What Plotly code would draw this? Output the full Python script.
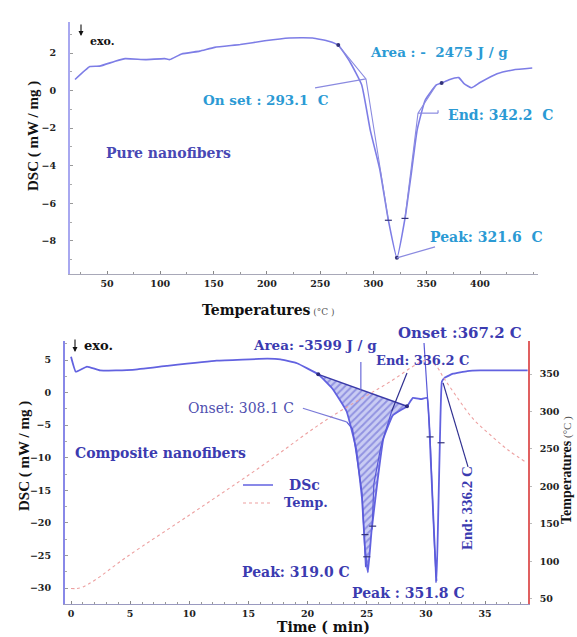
import plotly.graph_objects as go

W, H = 577, 637
SERIF = "DejaVu Serif"          # horizontal texts
SERIF_V = "Liberation Serif"    # rotated titles

# ---- Pure nanofibers: DSC signal against temperature ----
pure_temp = [20, 34, 43, 57, 67, 86, 104, 109, 120, 137, 151, 175, 198, 221, 243,
             258, 267, 278, 289, 297, 306, 314, 322, 329.6, 336, 341, 348.6, 359,
             364, 371, 380, 385, 392, 400, 416, 431, 449]
pure_dsc = [0.59, 1.28, 1.3, 1.55, 1.7, 1.65, 1.7, 1.65, 1.95, 2.1, 2.3, 2.45, 2.65,
            2.8, 2.8, 2.63, 2.42, 1.52, 0.3, -2.1, -4.2, -6.9, -8.9, -6.8, -4.2,
            -2.1, -0.5, 0.3, 0.4, 0.58, 0.69, 0.37, 0.15, 0.43, 0.9, 1.1, 1.2]

# analysis points on the pure curve
pure_dot_temp = [267, 322, 364]
pure_dot_dsc = [2.42, -8.9, 0.4]
pure_tick_temp = [314, 329.6]
pure_tick_dsc = [-6.9, -6.8]
# tangent constructions (onset / end)
pure_onset_temp = [267, 293, 314]
pure_onset_dsc = [2.42, 0.62, -6.9]
pure_end_temp = [359, 341.8, 329.6]
pure_end_dsc = [0.3, -1.2, -6.8]

# ---- Composite nanofibers: DSC signal and programme temperature against time ----
comp_time = [0, 0.4, 1.35, 2.45, 5.2, 8.1, 12.3, 16.6, 17.7, 19.1, 20.9, 22.1, 23.3,
             24.1, 24.6, 24.85, 25.1, 25.4, 25.9, 26.4, 27.2, 28.4, 28.9, 29.6, 30.1,
             30.4, 30.7, 30.9, 31.05, 31.2, 31.35, 31.6, 32.3, 33.5, 34.6, 38.6]
comp_dsc = [5.5, 3.2, 4.0, 3.4, 3.5, 4.1, 4.9, 5.2, 5.1, 4.5, 2.8, 0.6, -2.9,
            -8.6, -16.3, -23.9, -27.6, -21.3, -13.7, -7.1, -3.5, -2.1, -0.8, -1.0, -0.8,
            -10.0, -22.0, -29.0, -18.0, -6.0, 1.7, 2.3, 2.9, 3.3, 3.4, 3.4]

prog_time = [0, 0.5, 1, 2, 4.7, 10.3, 16, 21.6, 27.2, 29, 30, 30.8, 31.5, 32.5,
             34, 35.5, 37, 38.5]
prog_temp = [64, 64, 66, 75, 106, 165, 226, 289, 342, 361, 368, 362, 345, 322,
             290, 268, 248, 232]

# integration baseline of the first endotherm
base_time = [20.9, 28.4]
base_dsc = [2.8, -2.1]

comp_tick_time = [24.85, 25.0, 25.5, 30.35, 31.28]
comp_tick_dsc = [-21.8, -25.2, -20.5, -6.8, -7.7]
comp_onset_time = [23.3, 23.8, 24.6, 24.9]
comp_onset_dsc = [-4.5, -5.6, -15.4, -26.8]
comp_end_time = [27.1, 26.2, 25.6, 25.45]
comp_end_dsc = [-2.9, -8.2, -14.0, -21.0]
comp_onset2_time = [29.84, 30.35, 30.85]
comp_onset2_dsc = [7.6, -6.8, -29.2]

# tick values
pure_xticks = [50, 100, 150, 200, 250, 300, 350, 400]
pure_yticks = [-8, -6, -4, -2, 0, 2]
comp_xticks = [0, 5, 10, 15, 20, 25, 30, 35]
comp_yticks = [-30, -25, -20, -15, -10, -5, 0, 5]
temp_ticks = [50, 100, 150, 200, 250, 300, 350]


def px(x):
    return x / W


def py(y):
    return 1 - y / H


BLUE_TOP = "#7d7de6"
BLUE_BOT = "#6262e0"
DARK = "#3b3bb0"
CYAN = "#2b9ad4"
TEMP_RED = "#eda0a0"

fig = go.Figure()

# --- top panel ---
fig.add_trace(go.Scatter(x=pure_temp, y=pure_dsc, mode="lines",
                         line=dict(color=BLUE_TOP, width=1.6, shape="spline", smoothing=0.4),
                         xaxis="x", yaxis="y", showlegend=False))
for tx, ty in [(pure_onset_temp, pure_onset_dsc), (pure_end_temp, pure_end_dsc)]:
    fig.add_trace(go.Scatter(x=tx, y=ty, mode="lines",
                             line=dict(color="#8a8ae0", width=1.1),
                             xaxis="x", yaxis="y", showlegend=False))
fig.add_trace(go.Scatter(x=pure_dot_temp, y=pure_dot_dsc, mode="markers",
                         marker=dict(color="#33337a", size=4),
                         xaxis="x", yaxis="y", showlegend=False))
fig.add_trace(go.Scatter(x=pure_tick_temp, y=pure_tick_dsc, mode="markers",
                         marker=dict(symbol="line-ew", size=5,
                                     line=dict(color="#33337a", width=1.2)),
                         xaxis="x", yaxis="y", showlegend=False))

# --- bottom panel ---
area_t = [t for t in comp_time if base_time[0] <= t <= base_time[1]]
area_d = [d for t, d in zip(comp_time, comp_dsc) if base_time[0] <= t <= base_time[1]]
fig.add_trace(go.Scatter(x=area_t + base_time[::-1], y=area_d + base_dsc[::-1],
                         mode="lines", fill="toself", line=dict(width=0),
                         fillcolor="rgba(0,0,0,0)",
                         fillpattern=dict(shape="/", fgcolor="#5a5ad0", bgcolor="#c9ccf3",
                                          size=5, solidity=0.4),
                         xaxis="x2", yaxis="y2", showlegend=False, hoverinfo="skip"))
fig.add_trace(go.Scatter(x=prog_time, y=prog_temp, mode="lines",
                         line=dict(color=TEMP_RED, width=1.1, dash="dot", shape="spline"),
                         xaxis="x2", yaxis="y3", showlegend=False))
fig.add_trace(go.Scatter(x=comp_time, y=comp_dsc, mode="lines",
                         line=dict(color=BLUE_BOT, width=1.8, shape="spline", smoothing=0.3),
                         xaxis="x2", yaxis="y2", showlegend=False))
fig.add_trace(go.Scatter(x=base_time, y=base_dsc, mode="lines+markers",
                         line=dict(color="#3a3aa8", width=1.5),
                         marker=dict(color="#2a2a80", size=4),
                         xaxis="x2", yaxis="y2", showlegend=False))
for tx, ty in [(comp_onset_time, comp_onset_dsc), (comp_end_time, comp_end_dsc),
               (comp_onset2_time, comp_onset2_dsc)]:
    fig.add_trace(go.Scatter(x=tx, y=ty, mode="lines",
                             line=dict(color="#5a5ad8", width=1.2),
                             xaxis="x2", yaxis="y2", showlegend=False))
fig.add_trace(go.Scatter(x=comp_tick_time, y=comp_tick_dsc, mode="markers",
                         marker=dict(symbol="line-ew", size=5,
                                     line=dict(color="#33337a", width=1.2)),
                         xaxis="x2", yaxis="y2", showlegend=False))

# leader lines
leaders = [
    ("x", "y", [(245.2, 0.14), (293, 0.62)], "#8a8ae0"),
    ("x", "y", [(341.8, -1.2), (360.6, -1.2), (360.6, -1.05)], "#8a8ae0"),
    ("x", "y", [(322, -8.9), (357.8, -8.32)], "#8a8ae0"),
    ("x2", "y2", [(24.5, 4.7), (24.5, 0.45)], "#6a6ad8"),
    ("x2", "y2", [(19.6, -2.4), (23.3, -4.5)], "#7a7ad8"),
    ("x2", "y2", [(28.4, 3.0), (27.1, -2.9)], "#303090"),
    ("x2", "y2", [(31.45, 1.5), (33.56, -11.4)], "#303090"),
]
for xr, yr, pts, col in leaders:
    for (x0, y0), (x1, y1) in zip(pts[:-1], pts[1:]):
        fig.add_shape(type="line", xref=xr, yref=yr, x0=x0, y0=y0, x1=x1, y1=y1,
                      line=dict(color=col, width=1.2))

# legend
fig.add_shape(type="line", xref="paper", yref="paper", x0=px(243), x1=px(273),
              y0=py(485), y1=py(485), line=dict(color=BLUE_BOT, width=1.5))
fig.add_shape(type="line", xref="paper", yref="paper", x0=px(243), x1=px(273),
              y0=py(503), y1=py(503), line=dict(color=TEMP_RED, width=1.2, dash="dot"))


def label(text, x, y, size=14, color=DARK, weight="bold", anchor="center", angle=0,
          family=SERIF):
    fig.add_annotation(text=text, xref="paper", yref="paper", x=px(x), y=py(y),
                       xanchor=anchor, yanchor="middle", showarrow=False, textangle=angle,
                       font=dict(family=family, size=size, color=color, weight=weight))


# top panel texts
label("exo.", 88, 42, size=11, color="#111", anchor="left")
label("Area : -\u00a0\u00a02475 J / g", 439, 52, size=13.5, color=CYAN)
label("On set : 293.1\u00a0\u00a0C", 266, 100, size=13.5, color=CYAN)
label("End: 342.2\u00a0\u00a0C", 500, 115, size=14, color=CYAN)
label("Peak: 321.6\u00a0\u00a0C", 486, 237, size=14, color=CYAN)
label("Pure nanofibers", 168, 153, size=14, color="#4848b4")
label("DSC ( mW / mg )", 33, 136, size=15, color="#111", angle=-90, family=SERIF_V)
label("Temperatures<span style='font-size:9px;color:#555;font-weight:normal'> (°C )</span>",
      200, 310, size=14, color="#111", anchor="left")

# bottom panel texts
label("exo.", 82, 345, size=13, color="#111", anchor="left")
label("Area: -3599 J / g", 315, 345, size=13.5)
label("Onset :367.2 C", 460, 333, size=15)
label("End: 336.2 C", 422, 360, size=13)
label("Onset: 308.1 C", 241, 408, size=14, color="#5050b0", weight="normal")
label("Composite nanofibers", 160, 453, size=14)
label("DSc", 287, 485, size=14, anchor="left")
label("Temp.", 282, 503, size=13, anchor="left")
label("Peak: 319.0 C", 296, 572, size=14)
label("Peak : 351.8 C", 408, 593, size=14)
label("End: 336.2 C", 467, 508, size=15, angle=-90, family=SERIF_V)
label("DSC ( mW / mg )", 24, 456, size=15, color="#111", angle=-90, family=SERIF_V)
label("Time ( min)", 323, 627, size=14, color="#111")
label("Temperatures<span style='font-size:11px;color:#555;font-weight:normal'> (°C )</span>",
      567, 470, size=14, color="#111", angle=-90, family=SERIF_V)

# exo arrows
for x, y0, y1 in [(81, 23, 36), (75, 338, 352)]:
    fig.add_annotation(xref="paper", yref="paper", x=px(x), y=py(y1),
                       axref="pixel", ayref="pixel", ax=0, ay=-(y1 - y0),
                       text="", showarrow=True,
                       arrowhead=2, arrowsize=0.9, arrowwidth=1.1, arrowcolor="#111")

tickfont = dict(family=SERIF, size=9.5, color="#222", weight="bold")

fig.update_layout(
    width=W, height=H, autosize=False,
    margin=dict(l=0, r=0, t=0, b=0),
    paper_bgcolor="white", plot_bgcolor="white",
    showlegend=False,
    xaxis=dict(domain=[px(70), px(538)], range=[15.28, 454.4], anchor="y",
               tickvals=pure_xticks, tickfont=tickfont, showgrid=False, zeroline=False,
               showline=True, linecolor="#a8a8b8", linewidth=1.3,
               ticks="inside", ticklen=3, tickcolor="#888",
               minor=dict(dtick=25, ticks="inside", ticklen=2, tickcolor="#999")),
    yaxis=dict(domain=[py(274), py(22)], range=[-9.76, 3.65], anchor="x",
               tickvals=pure_yticks, tickfont=tickfont, showgrid=False, zeroline=False,
               showline=True, linecolor="#a8a8f0", linewidth=2,
               ticks="inside", ticklen=3, tickcolor="#999", ticklabelstandoff=10,
               minor=dict(dtick=1, ticks="inside", ticklen=2, tickcolor="#aaa")),
    xaxis2=dict(domain=[px(65), px(528)], range=[-0.51, 38.63], anchor="y2",
                tickvals=comp_xticks, tickfont=tickfont, showgrid=False, zeroline=False,
                showline=True, linecolor="#9a9ac0", linewidth=1.3,
                ticks="inside", ticklen=3, tickcolor="#888", ticklabelstandoff=0,
                minor=dict(dtick=1, ticks="inside", ticklen=2, tickcolor="#999")),
    yaxis2=dict(domain=[py(604), py(341)], range=[-32.45, 7.92], anchor="x2",
                tickvals=comp_yticks, tickfont=tickfont, showgrid=False, zeroline=False,
                showline=True, linecolor="#8888e8", linewidth=2,
                ticks="inside", ticklen=3, tickcolor="#999", ticklabelstandoff=10,
                minor=dict(dtick=2.5, ticks="inside", ticklen=2, tickcolor="#aaa")),
    yaxis3=dict(overlaying="y2", side="right", anchor="x2", range=[43.3, 394],
                tickvals=temp_ticks, tickfont=tickfont, showgrid=False, zeroline=False,
                showline=True, linecolor="#e06060", linewidth=1.5,
                ticks="outside", ticklen=2, tickcolor="#bbb", ticklabelstandoff=6),
)

fig.write_html("out.html")
